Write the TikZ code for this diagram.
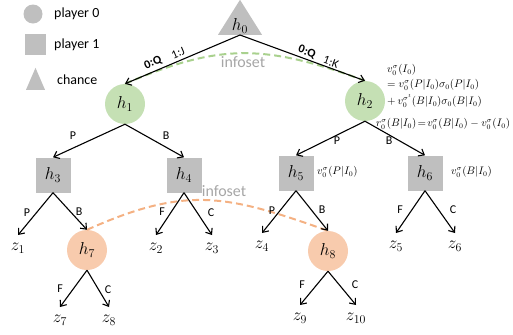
\documentclass[tikz,border=0pt]{standalone}
\usepackage{fontspec}
\setmainfont{Carlito}
\usetikzlibrary{shapes.geometric,arrows.meta}
\definecolor{gfill}{HTML}{C5E0B4}
\definecolor{ofill}{HTML}{F8CBAD}
\definecolor{grayfill}{HTML}{BFBFBF}
\definecolor{gdash}{HTML}{A9D18E}
\definecolor{odash}{HTML}{F4B183}
\definecolor{itxt}{HTML}{A6A6A6}
\begin{document}
\begin{tikzpicture}[x=1bp,y=-1bp,
  pzero/.style={circle, fill=#1, minimum size=40bp, inner sep=0pt, font=\fontsize{17}{19}\selectfont},
  pone/.style={rectangle, fill=grayfill, minimum size=35bp, inner sep=0pt, font=\fontsize{17}{19}\selectfont},
  term/.style={anchor=north, inner xsep=2bp, inner ysep=8bp, font=\fontsize{17}{19}\selectfont},
  edge/.style={-{Straight Barb[length=5bp,width=8bp]}, line width=1.1bp},
  elab/.style={inner sep=0pt, font=\fontsize{12}{14}\selectfont},
  leg/.style={anchor=west, inner sep=0pt, font=\fontsize{14}{16}\selectfont},
  ann/.style={anchor=west, inner sep=0pt, font=\fontsize{10.7}{12}\selectfont},
  infotxt/.style={text=itxt, inner sep=0pt, font=\fontsize{16}{18}\selectfont},
  infodash/.style={dash pattern=on 7bp off 4bp, line width=2bp}
]
\useasboundingbox (0,0) rectangle (513,334);
% legend
\node[circle, fill=grayfill, minimum size=19bp, inner sep=0pt] (lg0) at (33,14) {};
\node[leg] (lt0) at (54,14) {player 0};
\node[rectangle, fill=grayfill, minimum size=21bp, inner sep=0pt] (lg1) at (35,44) {};
\node[leg] (lt1) at (54,45) {player 1};
\node[isosceles triangle, isosceles triangle stretches, shape border rotate=90, fill=grayfill,
      minimum width=19bp, minimum height=22bp, inner sep=0pt, anchor=lower side] (lg2) at (35.5,90) {};
\node[leg] (lt2) at (57,80) {chance};
% root
\node[isosceles triangle, isosceles triangle stretches, shape border rotate=90, fill=grayfill,
      minimum width=44bp, minimum height=35bp, inner sep=0pt, anchor=lower side] (h0) at (240,35) {};
\node[inner sep=0pt, font=\fontsize{17}{19}\selectfont] (h0t) at (240,26) {$h_0$};
% nodes
\node[pzero=gfill] (h1) at (125,104) {$h_1$};
\node[pzero=gfill] (h2) at (365,101) {$h_2$};
\node[pone] (h3) at (53,175) {$h_3$};
\node[pone] (h4) at (184,175) {$h_4$};
\node[pone] (h5) at (296,173) {$h_5$};
\node[pone] (h6) at (425,173) {$h_6$};
\node[pzero=ofill] (h7) at (87,250) {$h_7$};
\node[pzero=ofill] (h8) at (328,251) {$h_8$};
\node[term] (z1) at (18,235) {$z_1$};
\node[term] (z2) at (156,235) {$z_2$};
\node[term] (z3) at (212,235) {$z_3$};
\node[term] (z4) at (262,233) {$z_4$};
\node[term] (z5) at (396,233) {$z_5$};
\node[term] (z6) at (455,233) {$z_6$};
\node[term] (z7) at (60,307) {$z_7$};
\node[term] (z8) at (109,307) {$z_8$};
\node[term] (z9) at (300,305) {$z_9$};
\node[term] (z10) at (356,305) {$z_{10}$};
% infosets
\draw[gdash, infodash] (h1.north) .. controls (218,44) and (263,43) .. (h2.north);
\node[infotxt] (inf1) at (243,62) {infoset};
\draw[odash, infodash] (h7.north) .. controls (187,185) and (227,195) .. (h8.north);
\node[infotxt] (inf2) at (224,191) {infoset};
% edges
\draw[edge] (h0.lower side) -- (h1.north);
\draw[edge] (h0.lower side) -- (h2.north);
\draw[edge] (h1.south) -- (h3.north);
\draw[edge] (h1.south) -- (h4.north);
\draw[edge] (h2.south) -- (h5.north);
\draw[edge] (h2.south) -- (h6.north);
\draw[edge] (h3.south) -- (z1.north);
\draw[edge] (h3.south) -- (h7.north);
\draw[edge] (h4.south) -- (z2.north);
\draw[edge] (h4.south) -- (z3.north);
\draw[edge] (h5.south) -- (z4.north);
\draw[edge] (h5.south) -- (h8.north);
\draw[edge] (h6.south) -- (z5.north);
\draw[edge] (h6.south) -- (z6.north);
\draw[edge] (h7.south) -- (z7.north);
\draw[edge] (h7.south) -- (z8.north);
\draw[edge] (h8.south) -- (z9.north);
\draw[edge] (h8.south) -- (z10.north);
% edge labels
\node[elab, font=\fontsize{12}{14}\selectfont\bfseries, rotate=23] (l1) at (153,63) {0:Q};
\node[elab, rotate=23] (l2) at (178,53) {1:J};
\node[elab, font=\fontsize{12}{14}\selectfont\bfseries, rotate=-20] (l3) at (307,52) {0:Q};
\node[elab, rotate=-20] (l4) at (331,62) {1:K};
\node[elab] (l5) at (73,136) {P};
\node[elab] (l6) at (166,136) {B};
\node[elab] (l7) at (337,141) {P};
\node[elab] (l8) at (389,141) {B};
\node[elab] (l9) at (27,213) {P};
\node[elab] (l10) at (79,212) {B};
\node[elab] (l11) at (162,212) {F};
\node[elab] (l12) at (211,213) {C};
\node[elab] (l13) at (272,211) {P};
\node[elab] (l14) at (322,210) {B};
\node[elab] (l15) at (400,210) {F};
\node[elab] (l16) at (453,210) {C};
\node[elab] (l17) at (60,289) {F};
\node[elab] (l18) at (108,290) {C};
\node[elab] (l19) at (302,285) {F};
\node[elab] (l20) at (355,285) {C};
% annotations
\node[ann] (a1) at (387,70) {$v_0^\sigma(I_0)$};
\node[ann] (a2) at (387,85) {$= v_0^\sigma(P|I_0)\sigma_0(P|I_0)$};
\node[ann] (a3) at (387,101) {$+\,v_0^{\sigma^t}(B|I_0)\sigma_0(B|I_0)$};
\node[ann] (a4) at (376,124) {$r_0^\sigma(B|I_0)\!=\!v_0^\sigma(B|I_0)-v_0^\sigma(I_0)$};
\node[ann] (a5) at (317,172) {$v_0^\sigma(P|I_0)$};
\node[ann] (a6) at (451,172) {$v_0^\sigma(B|I_0)$};
\end{tikzpicture}
\end{document}
